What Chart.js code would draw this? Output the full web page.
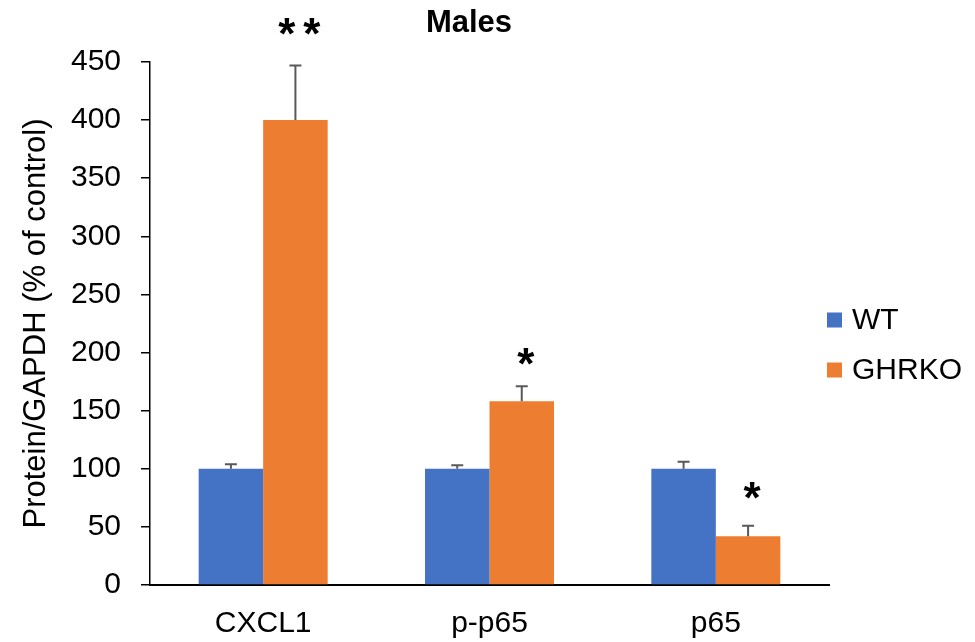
<!DOCTYPE html>
<html>
<head>
<meta charset="utf-8">
<script src="https://cdn.jsdelivr.net/npm/chart.js@4/dist/chart.umd.min.js"></script>
<style>
  html, body { margin: 0; padding: 0; background: #fff; }
  #wrap { width: 975px; height: 642px; }
</style>
</head>
<body>
<div id="wrap"><canvas id="c" width="975" height="642"></canvas></div>
<script>
// Protein levels relative to GAPDH, expressed as % of WT control
const categories = ['CXCL1', 'p-p65', 'p65'];
const seriesNames = ['WT', 'GHRKO'];
const wtValues = [100, 100, 100];
const wtErrors = [4, 3, 6];
const ghrkoValues = [400, 158, 42];
const ghrkoErrors = [47, 13, 9];
const significance = ['**', '*', '*'];
const yTicks = [0, 50, 100, 150, 200, 250, 300, 350, 400, 450];

const FONT = "'Liberation Sans', Arial, sans-serif";
const colors = ['#4472C4', '#ED7D31'];

// Positive-only error bars with a short cap
const errorBars = {
  id: 'errorBars',
  afterDatasetsDraw(chart) {
    const ctx = chart.ctx;
    const y = chart.scales.y;
    ctx.save();
    ctx.strokeStyle = '#595959';
    ctx.lineWidth = 2;
    chart.data.datasets.forEach((ds, di) => {
      const meta = chart.getDatasetMeta(di);
      meta.data.forEach((bar, i) => {
        const top = y.getPixelForValue(ds.data[i] + ds.errors[i]);
        ctx.beginPath();
        ctx.moveTo(bar.x, bar.y);
        ctx.lineTo(bar.x, top);
        ctx.moveTo(bar.x - 6, top);
        ctx.lineTo(bar.x + 6, top);
        ctx.stroke();
      });
    });
    ctx.restore();
  }
};

// Significance markers above the GHRKO bars
const sigMarks = {
  id: 'sigMarks',
  afterDatasetsDraw(chart, args, opts) {
    const ctx = chart.ctx;
    const y = chart.scales.y;
    const ds = chart.data.datasets[1];
    const meta = chart.getDatasetMeta(1);
    ctx.save();
    ctx.fillStyle = '#000';
    ctx.font = 'bold 44px ' + FONT;
    ctx.textAlign = 'center';
    ctx.textBaseline = 'middle';
    meta.data.forEach((bar, i) => {
      const top = y.getPixelForValue(ds.data[i] + ds.errors[i]);
      const marks = significance[i].split('');
      const gap = 25;
      const x0 = bar.x + 4 - (marks.length - 1) * gap / 2;
      marks.forEach((m, k) => {
        ctx.fillText(m, x0 + k * gap, top - opts.offsets[i] + 9);
      });
    });
    ctx.restore();
  }
};

// Title and legend drawn beside the plot
const decorations = {
  id: 'decorations',
  afterDraw(chart) {
    const ctx = chart.ctx;
    const area = chart.chartArea;
    ctx.save();
    ctx.fillStyle = '#000';
    ctx.font = 'bold 31px ' + FONT;
    ctx.textAlign = 'center';
    ctx.textBaseline = 'middle';
    ctx.fillText('Males', 469, 23);

    ctx.font = '30px ' + FONT;
    ctx.textAlign = 'left';
    seriesNames.forEach((name, i) => {
      const cy = 320 + i * 50;
      ctx.fillStyle = colors[i];
      ctx.fillRect(area.right - 2, cy - 7.5, 15, 15);
      ctx.fillStyle = '#000';
      ctx.fillText(name, area.right + 23, cy + 1);
    });
    ctx.restore();
  }
};

new Chart(document.getElementById('c'), {
  type: 'bar',
  data: {
    labels: categories,
    datasets: [
      { label: seriesNames[0], data: wtValues, errors: wtErrors, backgroundColor: colors[0] },
      { label: seriesNames[1], data: ghrkoValues, errors: ghrkoErrors, backgroundColor: colors[1] }
    ]
  },
  options: {
    responsive: false,
    animation: false,
    devicePixelRatio: 1,
    categoryPercentage: 0.57,
    barPercentage: 1.0,
    layout: { padding: { top: 62, right: 146, left: 0, bottom: 0 } },
    plugins: {
      legend: { display: false },
      title: { display: false },
      tooltip: { enabled: false },
      sigMarks: { offsets: [38, 28, 34] }
    },
    scales: {
      x: {
        grid: { display: false, drawTicks: false },
        border: { color: '#000', width: 2 },
        ticks: { color: '#000', padding: 21, font: { family: FONT, size: 30 } },
        afterFit(s) { s.height = 57; }
      },
      y: {
        min: 0,
        max: 450,
        afterBuildTicks(s) { s.ticks = yTicks.map(v => ({ value: v })); },
        grid: { drawOnChartArea: false, drawTicks: true, tickLength: 9, color: '#000', lineWidth: 1.5 },
        border: { color: '#000', width: 1.5 },
        ticks: { color: '#000', padding: 20, font: { family: FONT, size: 30 } },
        title: {
          display: true,
          text: 'Protein/GAPDH (% of control)',
          color: '#000',
          font: { family: FONT, size: 31 },
          padding: { top: 18, bottom: 0 }
        },
        afterFit(s) { s.width = 150; }
      }
    }
  },
  plugins: [errorBars, sigMarks, decorations]
});
</script>
</body>
</html>
